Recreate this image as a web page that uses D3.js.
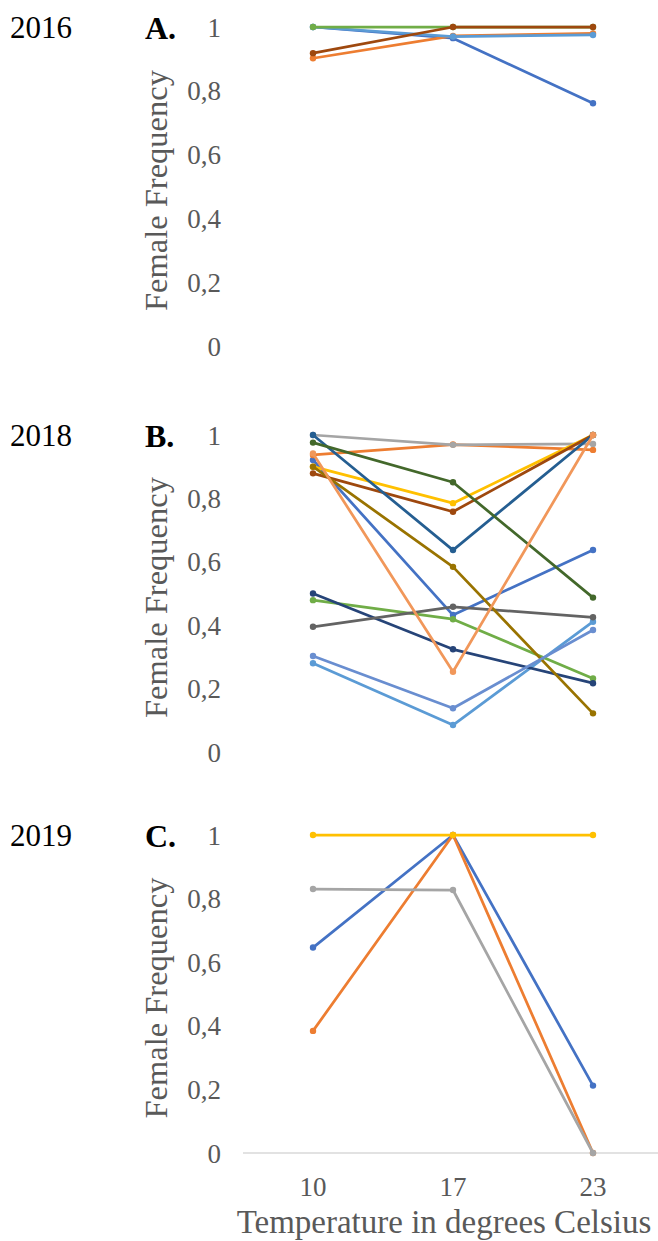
<!DOCTYPE html>
<html><head><meta charset="utf-8">
<script src="https://cdn.jsdelivr.net/npm/d3@7"></script>
<style>body{margin:0;background:#fff}svg{display:block}</style>
</head><body>
<script>
const temperatures = ["10", "17", "23"];
const yTicks = [0, 0.2, 0.4, 0.6, 0.8, 1];
const tickLabels = ["0", "0,2", "0,4", "0,6", "0,8", "1"];
const palette = ["#4472C4","#ED7D31","#A5A5A5","#FFC000","#5B9BD5","#70AD47","#264478","#9E480E","#636363","#997300","#255E91","#43682B","#698ED0","#F1975A"];

// Panel A (2016)
const seriesA = [
  {color: 0, values: [1.00, 0.965, 0.761]},
  {color: 1, values: [0.902, 0.972, 0.980]},
  {color: 4, values: [1.00, 0.970, 0.975]},
  {color: 5, values: [1.00, 1.00, 1.00]},
  {color: 7, values: [0.918, 1.00, 1.00]}
];
// Panel B (2018)
const seriesB = [
  {color: 0, values: [0.921, 0.432, 0.637]},
  {color: 1, values: [0.937, 0.970, 0.953]},
  {color: 2, values: [1.00, 0.969, 0.972]},
  {color: 3, values: [0.900, 0.785, 1.00]},
  {color: 4, values: [0.280, 0.085, 0.411]},
  {color: 5, values: [0.479, 0.419, 0.232]},
  {color: 6, values: [0.500, 0.324, 0.217]},
  {color: 7, values: [0.879, 0.758, 1.00]},
  {color: 8, values: [0.395, 0.458, 0.425]},
  {color: 9, values: [0.900, 0.584, 0.122]},
  {color: 10, values: [1.00, 0.637, 1.00]},
  {color: 11, values: [0.976, 0.851, 0.487]},
  {color: 12, values: [0.303, 0.138, 0.385]},
  {color: 13, values: [0.942, 0.253, 1.00]}
];
// Panel C (2019)
const seriesC = [
  {color: 0, values: [0.646, 1.00, 0.212]},
  {color: 1, values: [0.384, 1.00, 0.00]},
  {color: 2, values: [0.830, 0.827, 0.00]},
  {color: 3, values: [1.00, 1.00, 1.00]}
];

const panels = [
  {year: "2016", letter: "A.", series: seriesA, top: 27, bottom: 346, baseline: false},
  {year: "2018", letter: "B.", series: seriesB, top: 435, bottom: 752, baseline: false},
  {year: "2019", letter: "C.", series: seriesC, top: 835, bottom: 1153, baseline: true}
];

const W = 658, H = 1241;
const svg = d3.select("body").append("svg").attr("width", W).attr("height", H);
const x = d3.scaleBand().domain(temperatures).range([243, 663]);
const serif = "'Liberation Serif','Times New Roman',serif";
const gray = "#595959";

panels.forEach(p => {
  const y = d3.scaleLinear().domain([0, 1]).range([p.bottom, p.top]);
  const g = svg.append("g");
  g.append("text").attr("x", 10).attr("y", p.top + 11).text(p.year)
    .attr("font-family", serif).attr("font-size", 31).attr("fill", "#000");
  g.append("text").attr("x", 145).attr("y", p.top + 12).text(p.letter)
    .attr("font-family", serif).attr("font-size", 32).attr("font-weight", "bold").attr("fill", "#000");
  const yAxis = d3.axisLeft(y).tickValues(yTicks).tickSize(0).tickPadding(0)
    .tickFormat((d, i) => tickLabels[i]);
  const ag = g.append("g").attr("transform", "translate(221,0)").call(yAxis);
  ag.select(".domain").remove();
  ag.selectAll("text").attr("font-family", serif).attr("font-size", 27).attr("fill", gray).attr("dy", "0.34em");
  g.append("text").attr("transform", `translate(167,${(p.top + p.bottom) / 2 + 4}) rotate(-90)`)
    .attr("text-anchor", "middle").text("Female Frequency")
    .attr("font-family", serif).attr("font-size", 32.5).attr("fill", gray);
  if (p.baseline) {
    g.append("line").attr("x1", x.range()[0]).attr("x2", x.range()[1])
      .attr("y1", y(0)).attr("y2", y(0)).attr("stroke", "#D9D9D9").attr("stroke-width", 1.5);
  }
  const line = d3.line().x((d, i) => x(temperatures[i]) + x.bandwidth() / 2).y(d => y(d));
  p.series.forEach(s => {
    const c = palette[s.color];
    g.append("path").attr("d", line(s.values)).attr("fill", "none")
      .attr("stroke", c).attr("stroke-width", 2.75).attr("stroke-linejoin", "round");
    g.selectAll(null).data(s.values).enter().append("circle")
      .attr("cx", (d, i) => x(temperatures[i]) + x.bandwidth() / 2)
      .attr("cy", d => y(d)).attr("r", 3.2).attr("fill", c);
  });
  if (p.baseline) {
    const xAxis = d3.axisBottom(x).tickSize(0).tickPadding(0);
    const xg = g.append("g").attr("transform", `translate(0,${y(0)})`).call(xAxis);
    xg.select(".domain").remove();
    xg.selectAll("text").attr("font-family", serif).attr("font-size", 27).attr("fill", gray)
      .attr("dy", "0").attr("y", 43);
    g.append("text").attr("x", 444).attr("y", 1233).attr("text-anchor", "middle")
      .text("Temperature in degrees Celsius")
      .attr("font-family", serif).attr("font-size", 33).attr("fill", gray);
  }
});
</script>
</body></html>
